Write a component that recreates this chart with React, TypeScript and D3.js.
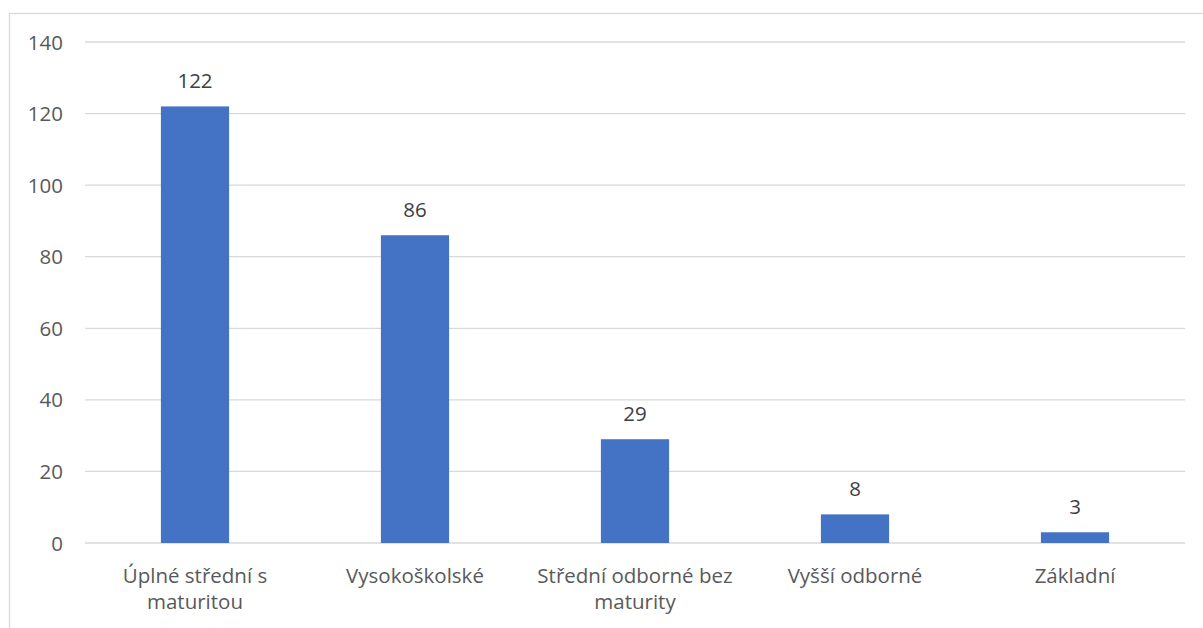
import React from "react";
import * as d3 from "d3";

const categories = ["Úplné střední s maturitou", "Vysokoškolské", "Střední odborné bez maturity", "Vyšší odborné", "Základní"];
const labelLines = [["Úplné střední s", "maturitou"], ["Vysokoškolské"], ["Střední odborné bez", "maturity"], ["Vyšší odborné"], ["Základní"]];
const values = [122, 86, 29, 8, 3];
const yTicks = [0, 20, 40, 60, 80, 100, 120, 140];

export default function App() {
  const W = 1203, H = 628;
  const left = 85, right = 1185, top = 42, bottom = 543;
  const x = d3.scaleBand<string>().domain(categories).range([left, right]).paddingInner(0.69).paddingOuter(0.345);
  const y = d3.scaleLinear().domain([0, 140]).range([bottom, top]);
  const font = "'Open Sans', 'Noto Sans', sans-serif";
  const fs = 20.5;
  return (
    <svg width={W} height={H} style={{ position: "absolute", left: 0, top: 0 }}>
      <rect x={0} y={0} width={W} height={H} fill="#fff" />
      <rect x={9.5} y={13.5} width={1210} height={640} fill="none" stroke="#d9d9d9" strokeWidth={1.3} />
      {yTicks.map(t => (
        <g key={t}>
          <line x1={left} x2={right} y1={y(t)} y2={y(t)} stroke="#d9d9d9" strokeWidth={1.3} />
          <text x={63} y={y(t) + 7.5} textAnchor="end" fontSize={fs} fontFamily={font} fill="#595959">{t}</text>
        </g>
      ))}
      {categories.map((c, i) => {
        const bx = x(c)!;
        const bw = x.bandwidth();
        const cx = bx + bw / 2;
        return (
          <g key={c}>
            <rect x={bx} y={y(values[i])} width={bw} height={y(0) - y(values[i])} fill="#4472C4" />
            <text x={cx} y={y(values[i]) - 18} textAnchor="middle" fontSize={fs} fontFamily={font} fill="#404040">{values[i]}</text>
            {labelLines[i].map((l, j) => (
              <text key={j} x={cx} y={583 + j * 26} textAnchor="middle" fontSize={fs} fontFamily={font} fill="#595959">{l}</text>
            ))}
          </g>
        );
      })}
    </svg>
  );
}
